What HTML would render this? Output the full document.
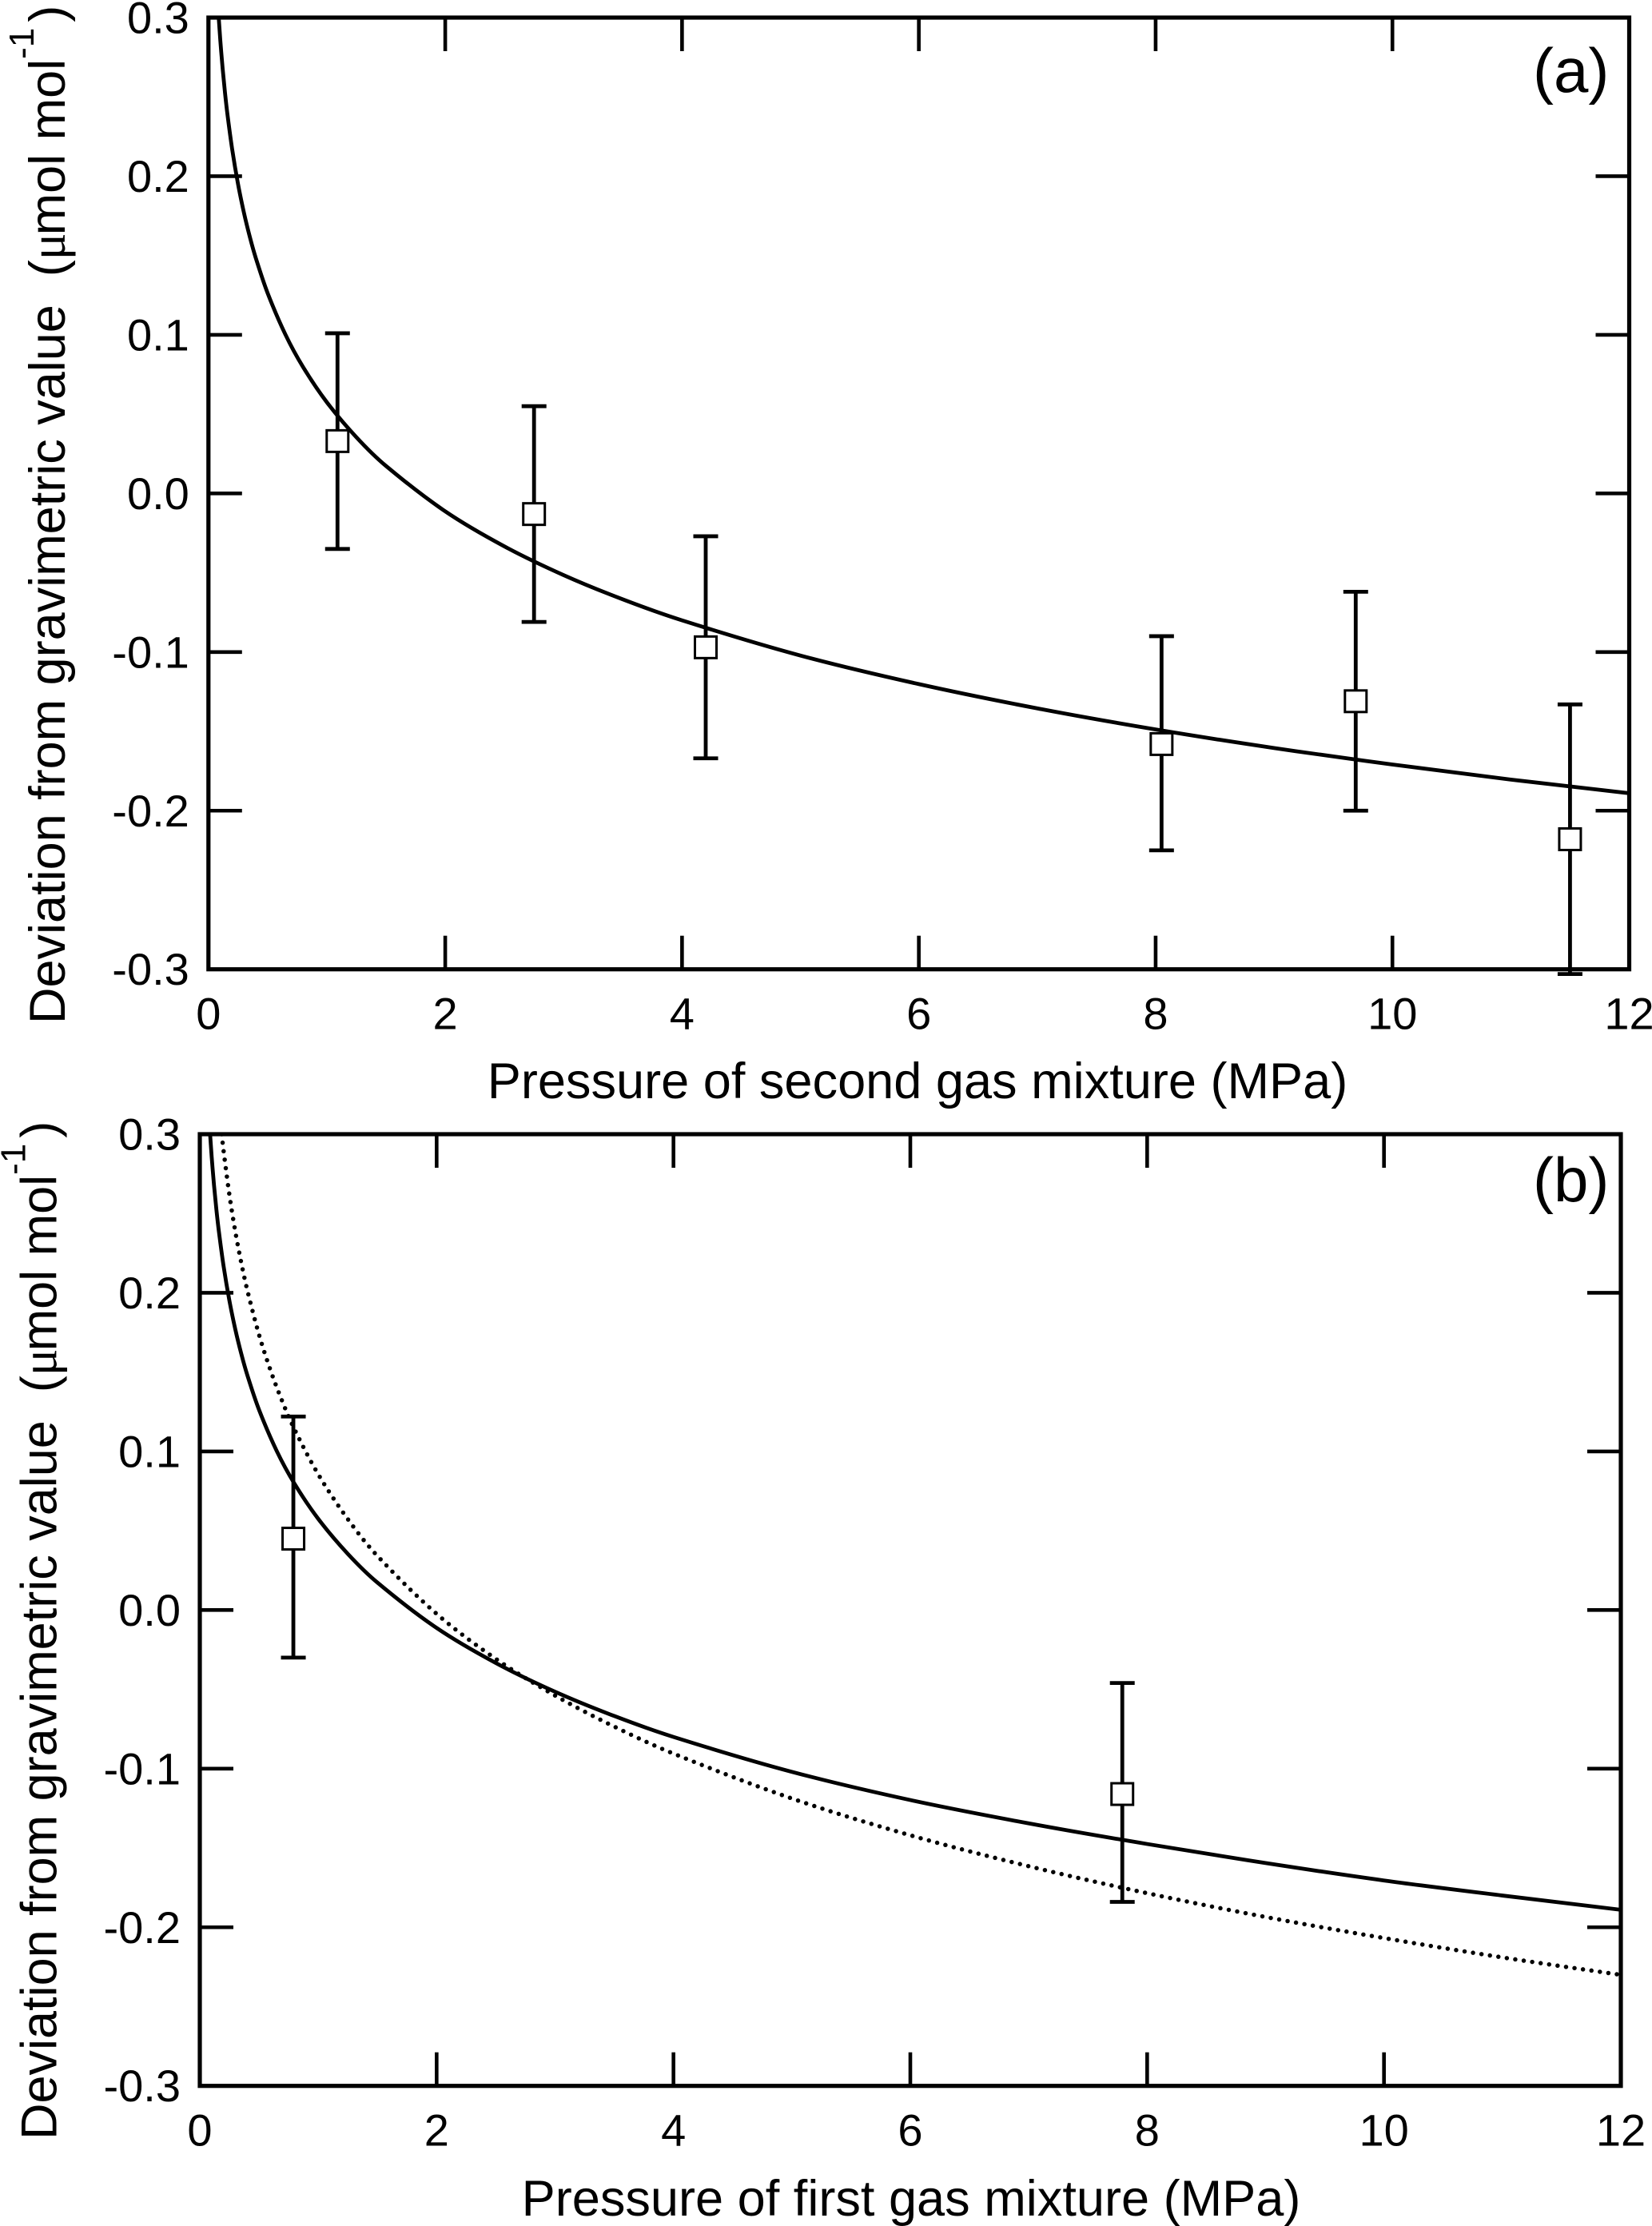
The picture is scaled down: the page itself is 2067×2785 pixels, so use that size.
<!DOCTYPE html>
<html lang="en">
<head>
<meta charset="utf-8">
<title>Deviation from gravimetric value vs pressure</title>
<style>
html,body{margin:0;padding:0;background:#fff;}
svg{display:block;}
text{font-family:"Liberation Sans",sans-serif;fill:#000;}
</style>
</head>
<body>
<svg id="chart" xmlns="http://www.w3.org/2000/svg" width="2067" height="2785" viewBox="0 0 2067 2785">
  <rect x="0" y="0" width="2067" height="2785" fill="#fff"/>

  <text x="1148" y="1374" font-size="63.1" text-anchor="middle">Pressure of second gas mixture (MPa)</text>
  <text transform="translate(81,1281) rotate(-90)" font-size="63" xml:space="preserve">Deviation from gravimetric value  (<tspan font-family="Liberation Serif">μ</tspan><tspan dx="-3">mol mol</tspan><tspan font-size="44" dy="-39">-1</tspan><tspan dy="39" dx="7">)</tspan></text>
  <text x="1918" y="115" font-size="78">(a)</text>

  <text x="1140" y="2772" font-size="63.1" text-anchor="middle">Pressure of first gas mixture (MPa)</text>
  <text transform="translate(70.5,2677) rotate(-90)" font-size="63" xml:space="preserve">Deviation from gravimetric value  (<tspan font-family="Liberation Serif">μ</tspan><tspan dx="-3">mol mol</tspan><tspan font-size="44" dy="-39">-1</tspan><tspan dy="39" dx="7">)</tspan></text>
  <text x="1918" y="1503" font-size="78">(b)</text>
</svg>
<script>
// shared axis values
const xTickValues = [0, 2, 4, 6, 8, 10, 12];
const xTickLabels = ["0", "2", "4", "6", "8", "10", "12"];
const yTickValues = [0.3, 0.2, 0.1, 0.0, -0.1, -0.2, -0.3];
const yTickLabels = ["0.3", "0.2", "0.1", "0.0", "-0.1", "-0.2", "-0.3"];

// panel (a) data
const aPointX = [1.09, 2.75, 4.2, 8.05, 9.69, 11.5];
const aPointY = [0.033, -0.013, -0.097, -0.158, -0.131, -0.218];
const aErrHigh = [0.101, 0.055, -0.027, -0.09, -0.062, -0.133];
const aErrLow = [-0.035, -0.081, -0.167, -0.225, -0.2, -0.303];
const aCurveX = [0.085, 0.1, 0.12, 0.14, 0.16, 0.2, 0.25, 0.3, 0.35, 0.4, 0.5, 0.65, 0.8, 1, 1.25, 1.5, 2, 2.5, 3, 3.5, 4, 5, 6, 7, 8, 9, 10, 11, 12];
const aCurveY = [0.3019, 0.2859, 0.2678, 0.2525, 0.2393, 0.2172, 0.1950, 0.1769, 0.1616, 0.1484, 0.1263, 0.1002, 0.0796, 0.0575, 0.0354, 0.0173, -0.0113, -0.0334, -0.0515, -0.0668, -0.0800, -0.1022, -0.1202, -0.1355, -0.1488, -0.1605, -0.1709, -0.1804, -0.1890];

// panel (b) data
const bPointX = [0.79, 7.79];
const bPointY = [0.045, -0.116];
const bErrHigh = [0.122, -0.046];
const bErrLow = [-0.03, -0.184];
const bSolidX = [0.085, 0.1, 0.12, 0.14, 0.16, 0.2, 0.25, 0.3, 0.35, 0.4, 0.5, 0.65, 0.8, 1, 1.25, 1.5, 2, 2.5, 3, 3.5, 4, 5, 6, 7, 8, 9, 10, 11, 12];
const bSolidY = [0.3019, 0.2859, 0.2678, 0.2525, 0.2393, 0.2172, 0.1950, 0.1769, 0.1616, 0.1484, 0.1263, 0.1002, 0.0796, 0.0575, 0.0354, 0.0173, -0.0113, -0.0334, -0.0515, -0.0668, -0.0800, -0.1020, -0.1198, -0.1345, -0.1475, -0.1595, -0.1705, -0.1800, -0.1890];
const bDottedX = [0.185, 0.2, 0.25, 0.3, 0.35, 0.4, 0.5, 0.6, 0.7, 0.8, 1, 1.25, 1.5, 2, 2.5, 3, 3.5, 4, 5, 6, 7, 8, 9, 10, 11, 12];
const bDottedY = [0.3000, 0.2900, 0.2617, 0.2385, 0.2190, 0.2020, 0.1736, 0.1505, 0.1309, 0.1139, 0.0856, 0.0573, 0.0341, -0.0024, -0.0308, -0.0539, -0.0735, -0.0905, -0.1188, -0.1420, -0.1615, -0.1785, -0.1935, -0.2068, -0.2190, -0.2300];

const NS = "http://www.w3.org/2000/svg";
const svg = document.getElementById("chart");

function make(tag, attrs, parent) {
  const el = document.createElementNS(NS, tag);
  for (const k in attrs) el.setAttribute(k, attrs[k]);
  (parent || svg).appendChild(el);
  return el;
}

// chord-length Catmull-Rom spline through the sampled points
function smoothPath(xs, ys, sx, sy) {
  const p = xs.map((x, i) => [sx(x), sy(ys[i])]);
  const dist = (a, b) => Math.hypot(a[0] - b[0], a[1] - b[1]);
  const tangent = i => {
    const a = p[Math.max(i - 1, 0)];
    const b = p[Math.min(i + 1, p.length - 1)];
    const len = dist(a, b);
    return [(b[0] - a[0]) / len, (b[1] - a[1]) / len];
  };
  let d = "M" + p[0][0].toFixed(2) + " " + p[0][1].toFixed(2);
  for (let i = 0; i < p.length - 1; i++) {
    const seg = dist(p[i], p[i + 1]);
    const t1 = tangent(i);
    const t2 = tangent(i + 1);
    d += "C" + (p[i][0] + t1[0] * seg / 3).toFixed(2) + " " + (p[i][1] + t1[1] * seg / 3).toFixed(2) + " " +
         (p[i + 1][0] - t2[0] * seg / 3).toFixed(2) + " " + (p[i + 1][1] - t2[1] * seg / 3).toFixed(2) + " " +
         p[i + 1][0].toFixed(2) + " " + p[i + 1][1].toFixed(2);
  }
  return d;
}

function drawCurve(id, c, sx, sy) {
  const attrs = { d: smoothPath(c.x, c.y, sx, sy), fill: "none", stroke: "#000", "stroke-width": c.dotted ? 5.5 : 4.8, "clip-path": "url(#" + id + "-clip)" };
  if (c.dotted) {
    attrs["stroke-dasharray"] = "0 10.7";
    attrs["stroke-linecap"] = "round";
  }
  const path = make("path", attrs);
  
  
}

function drawPanel(id, box, pointX, pointY, errHigh, errLow, curves) {
  const sx = v => box.left + (v - 0) / 12 * (box.right - box.left);
  const sy = v => box.top + (0.3 - v) / 0.6 * (box.bottom - box.top);

  const clip = make("clipPath", { id: id + "-clip" });
  make("rect", { x: box.left, y: box.top, width: box.right - box.left, height: box.bottom - box.top }, clip);

  // tick labels
  xTickValues.forEach((v, i) => {
    const t = make("text", { x: sx(v), y: box.bottom + 75, "font-size": 56, "text-anchor": "middle" });
    
    
    t.textContent = xTickLabels[i];
  });
  yTickValues.forEach((v, i) => {
    const t = make("text", { x: box.left - 24, y: sy(v) + 19.5, "font-size": 56, "text-anchor": "end" });
    
    
    t.textContent = yTickLabels[i];
  });

  // dotted curves sit below the error bars
  curves.filter(c => c.dotted).forEach(c => drawCurve(id, c, sx, sy));

  // error bars and markers
  pointX.forEach((v, i) => {
    const cx = sx(v);
    const hi = sy(errHigh[i]);
    const lo = sy(errLow[i]);
    const bar = make("path", {
      d: "M" + cx + " " + hi + "V" + lo + "M" + (cx - 15.5) + " " + hi + "H" + (cx + 15.5) + "M" + (cx - 15.5) + " " + lo + "H" + (cx + 15.5),
      fill: "none", stroke: "#000", "stroke-width": 4.8
    });
    
    
  });
  pointX.forEach((v, i) => {
    const marker = make("rect", {
      x: sx(v) - 13.5, y: sy(pointY[i]) - 13.5, width: 27, height: 27,
      fill: "#fff", stroke: "#000", "stroke-width": 3
    });
    
    
  });

  // the solid curve passes over the markers
  curves.filter(c => !c.dotted).forEach(c => drawCurve(id, c, sx, sy));

  // ticks on all four sides
  xTickValues.slice(1, -1).forEach(v => {
    const bottomTick = make("line", { x1: sx(v), x2: sx(v), y1: box.bottom, y2: box.bottom - 42, stroke: "#000", "stroke-width": 4.6 });
    
    
    const topTick = make("line", { x1: sx(v), x2: sx(v), y1: box.top, y2: box.top + 42, stroke: "#000", "stroke-width": 4.6 });
    
    
  });
  yTickValues.slice(1, -1).forEach(v => {
    const leftTick = make("line", { x1: box.left, x2: box.left + 42, y1: sy(v), y2: sy(v), stroke: "#000", "stroke-width": 4.6 });
    
    
    const rightTick = make("line", { x1: box.right, x2: box.right - 42, y1: sy(v), y2: sy(v), stroke: "#000", "stroke-width": 4.6 });
    
    
  });

  // frame
  const frame = make("rect", { x: box.left, y: box.top, width: box.right - box.left, height: box.bottom - box.top, fill: "none", stroke: "#000", "stroke-width": 5.2 });
  
  
}

drawPanel("panel-a", { left: 260.8, right: 2038.5, top: 22, bottom: 1212.7 },
  aPointX, aPointY, aErrHigh, aErrLow,
  [{ x: aCurveX, y: aCurveY, name: "fit-curve" }]);

drawPanel("panel-b", { left: 250, right: 2028, top: 1419, bottom: 2609.7 },
  bPointX, bPointY, bErrHigh, bErrLow,
  [{ x: bDottedX, y: bDottedY, dotted: true, name: "dotted-curve" },
   { x: bSolidX, y: bSolidY, name: "solid-curve" }]);
</script>
</body>
</html>
